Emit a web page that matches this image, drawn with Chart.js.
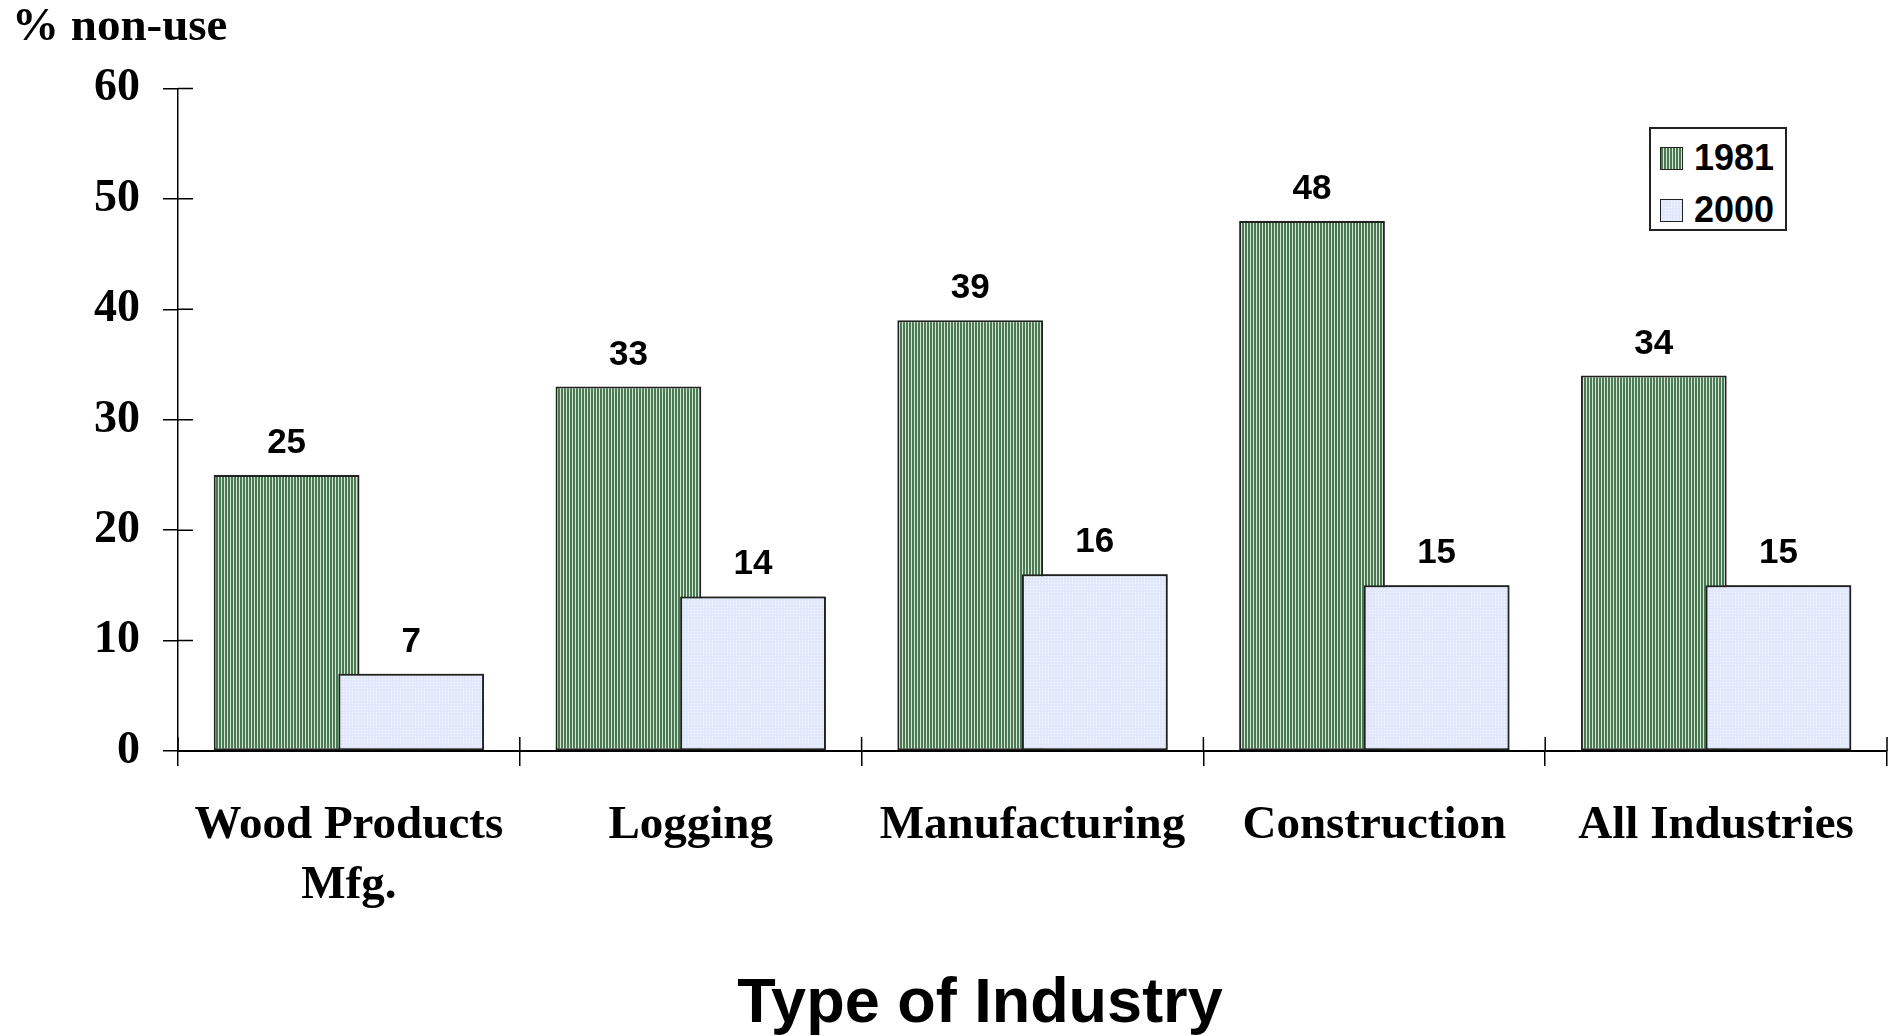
<!DOCTYPE html>
<html lang="en">
  <head>
    <meta charset="UTF-8" />
    <title>% non-use by Type of Industry</title>
    <script src="https://cdn.jsdelivr.net/npm/chart.js"></script>
    <style>
      body {
        margin: 0;
        background-color: #ffffff;
      }

      .chart-container {
        position: relative;
        width: 1897px;
        height: 1036px;
      }

      .legend-box {
        position: absolute;
        left: 1649px;
        top: 127px;
        width: 134px;
        height: 100px;
        border: 2px solid #222;
        background: #fff;
        font-family: "Liberation Sans", Arial, sans-serif;
        font-weight: bold;
        font-size: 36px;
      }

      .legend-row {
        position: absolute;
        left: 9px;
        height: 36px;
        line-height: 36px;
      }

      .swatch {
        display: inline-block;
        width: 21px;
        height: 21px;
        border: 1.5px solid #222;
        vertical-align: middle;
        margin-right: 11px;
        margin-top: -4px;
      }

      .swatch-1981 {
        background: repeating-linear-gradient(90deg, #4a7a53 0 2px, #d6e7d6 2px 3px);
      }

      .swatch-2000 {
        background-color: #e2e8fc;
        background-image: radial-gradient(#f8f9ff 0.6px, transparent 0.8px);
        background-size: 3px 3px;
      }

      .x-title {
        position: absolute;
        left: 580px;
        top: 969px;
        width: 800px;
        text-align: center;
        font-family: "Liberation Sans", Arial, sans-serif;
        font-weight: bold;
        font-size: 63px;
        line-height: 63px;
      }
    </style>
  </head>

  <body>
    <div class="chart-container">
      <canvas id="nonUseChart"></canvas>

      <div class="legend-box">
        <div class="legend-row" style="top: 11px">
          <span class="swatch swatch-1981"></span>1981
        </div>
        <div class="legend-row" style="top: 63px">
          <span class="swatch swatch-2000"></span>2000
        </div>
      </div>

      <div class="x-title">Type of Industry</div>
    </div>

    <script>
      const industries = [
        ["Wood Products", "Mfg."],
        "Logging",
        "Manufacturing",
        "Construction",
        "All Industries",
      ];
      const values1981 = [25, 33, 39, 48, 34];
      const values2000 = [7, 14, 16, 15, 15];
      const yTicks = [0, 10, 20, 30, 40, 50, 60];

      // fill patterns like the original (striped green, dotted pale blue)
      function makePattern(w, h, paint) {
        const c = document.createElement("canvas");
        c.width = w;
        c.height = h;
        paint(c.getContext("2d"));
        return c.getContext("2d").createPattern(c, "repeat");
      }

      const greenStripes = makePattern(3, 3, (g) => {
        g.fillStyle = "#4a7a53";
        g.fillRect(0, 0, 2, 3);
        g.fillStyle = "#d6e7d6";
        g.fillRect(2, 0, 1, 3);
      });

      const blueDots = makePattern(3, 3, (g) => {
        g.fillStyle = "#e2e8fc";
        g.fillRect(0, 0, 3, 3);
        g.fillStyle = "#f6f8ff";
        g.fillRect(1, 1, 1, 1);
      });

      // 2000 bars sit on top of the 1981 bars where they overlap
      const redraw2000 = {
        id: "redraw2000",
        afterDatasetsDraw(chart) {
          chart.getDatasetMeta(1).controller.draw();
        },
      };

      // value labels above each bar
      const barValues = {
        id: "barValues",
        afterDatasetsDraw(chart) {
          const ctx = chart.ctx;
          ctx.save();
          ctx.font = 'bold 35px "Liberation Sans", Arial, sans-serif';
          ctx.fillStyle = "#000";
          ctx.textAlign = "center";
          ctx.textBaseline = "alphabetic";
          chart.data.datasets.forEach((ds, i) => {
            chart.getDatasetMeta(i).data.forEach((bar, j) => {
              ctx.fillText(ds.data[j], bar.x, bar.y - 22);
            });
          });
          ctx.restore();
        },
      };

      // tick marks that cross the axes (inner half)
      const innerTicks = {
        id: "innerTicks",
        afterDraw(chart) {
          const ctx = chart.ctx;
          const x = chart.scales.x;
          const y = chart.scales.y;
          ctx.save();
          ctx.strokeStyle = "#000";
          ctx.lineWidth = 1.5;
          ctx.beginPath();
          yTicks.forEach((v) => {
            const py = y.getPixelForValue(v);
            ctx.moveTo(x.left, py);
            ctx.lineTo(x.left + 15, py);
          });
          const n = industries.length;
          for (let i = 0; i <= n; i++) {
            const px = x.left + (i * (x.right - x.left)) / n;
            ctx.moveTo(px, y.bottom);
            ctx.lineTo(px, y.bottom - 14);
          }
          ctx.stroke();
          ctx.restore();
        },
      };

      new Chart(document.getElementById("nonUseChart").getContext("2d"), {
        type: "bar",
        data: {
          labels: industries,
          datasets: [
            {
              label: "1981",
              data: values1981,
              backgroundColor: greenStripes,
              borderColor: "#222",
              borderWidth: 2,
              borderSkipped: false,
            },
            {
              label: "2000",
              data: values2000,
              backgroundColor: blueDots,
              borderColor: "#222",
              borderWidth: 2,
              borderSkipped: false,
            },
          ],
        },
        options: {
          responsive: true,
          maintainAspectRatio: false,
          animation: false,
          categoryPercentage: 0.729,
          barPercentage: 1.17,
          layout: { padding: { left: 12, right: 10, top: 0, bottom: 90 } },
          plugins: {
            legend: { display: false },
            tooltip: { enabled: false },
            title: {
              display: true,
              text: "% non-use",
              align: "start",
              color: "#000",
              font: { family: "Liberation Serif", weight: "bold", size: 47 },
              padding: { top: 0, bottom: 32 },
            },
          },
          scales: {
            x: {
              offset: true,
              grid: {
                offset: true,
                drawOnChartArea: false,
                color: "#000",
                lineWidth: 1.5,
                tickLength: 15,
              },
              border: { color: "#000", width: 2 },
              ticks: {
                color: "#000",
                padding: 30,
                maxRotation: 0,
                autoSkip: false,
                font: {
                  family: "Liberation Serif",
                  weight: "bold",
                  size: 47,
                  lineHeight: 60 / 47,
                },
              },
            },
            y: {
              min: 0,
              max: 60,
              afterFit(scale) {
                scale.width = 166;
              },
              grid: {
                drawOnChartArea: false,
                color: "#000",
                lineWidth: 1.5,
                tickLength: 15,
              },
              border: { color: "#000", width: 1.5 },
              ticks: {
                stepSize: 10,
                color: "#000",
                padding: 23,
                font: { family: "Liberation Serif", weight: "bold", size: 46 },
              },
            },
          },
        },
        plugins: [redraw2000, barValues, innerTicks],
      });
    </script>
  </body>
</html>
